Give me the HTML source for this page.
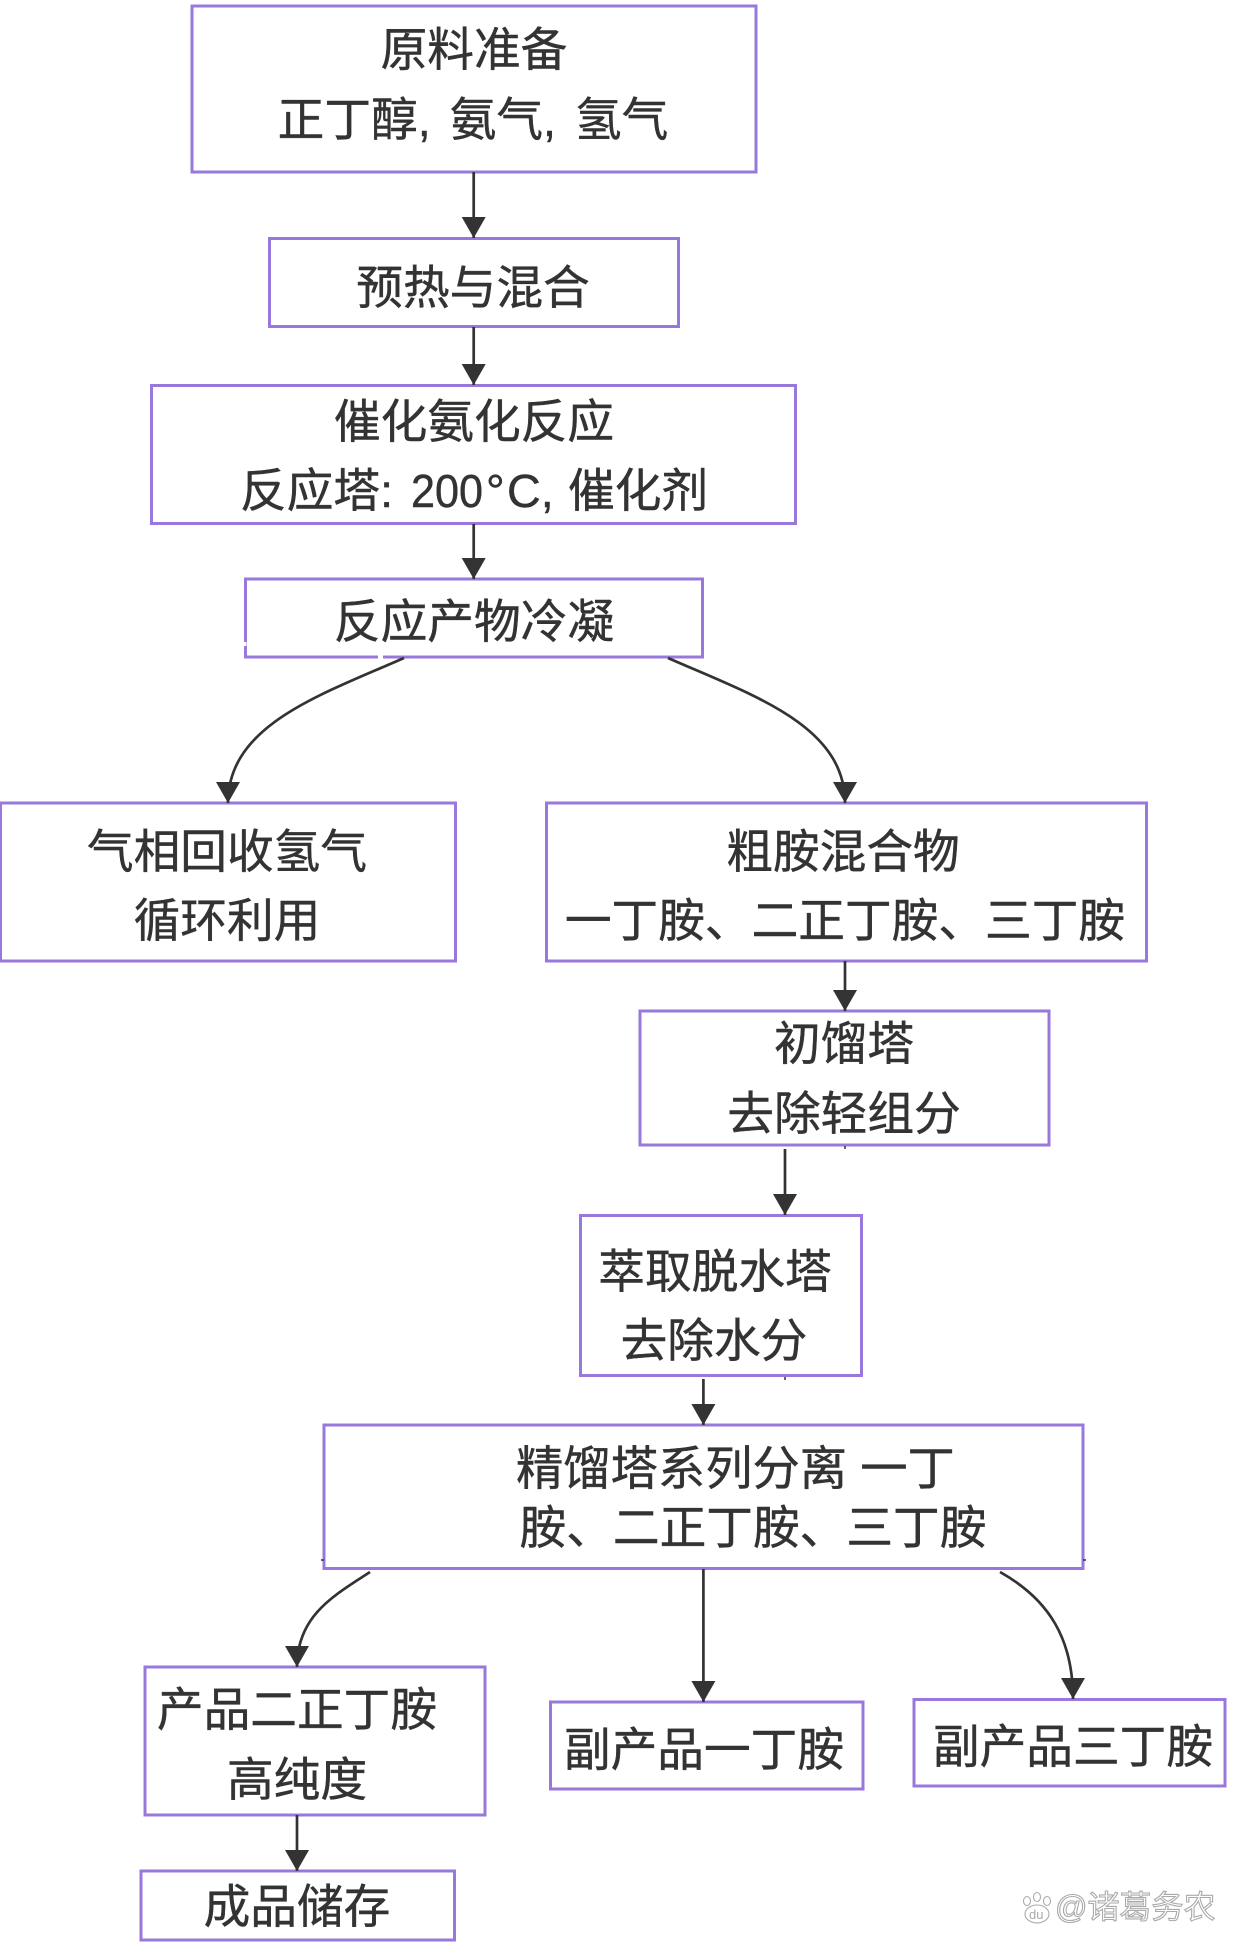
<!DOCTYPE html>
<html lang="zh">
<head>
<meta charset="utf-8">
<style>
html,body{margin:0;padding:0;background:#fff}
svg{display:block}
text{font-family:"Liberation Sans","Noto Sans CJK SC",sans-serif;font-size:46.7px;fill:#333;text-anchor:middle;stroke:#333;stroke-width:.45px}
text.s{text-anchor:start}
text.w{font-size:32px;fill:#fff;stroke:#aaa;stroke-width:1.1px;text-anchor:start}
rect{fill:#fff;stroke:#9878dc;stroke-width:3}
.e{fill:none;stroke:#333;stroke-width:2.7}
</style>
</head>
<body>
<svg width="1242" height="1951" viewBox="0 0 1242 1951" xmlns="http://www.w3.org/2000/svg">
<defs>
<marker id="a" markerUnits="userSpaceOnUse" markerWidth="23" markerHeight="25" refX="21" refY="12" orient="auto">
<path d="M0,0L21,12L0,24Z" fill="#333"/>
</marker>
</defs>
<g>
<rect x="192" y="6" width="564" height="166"/>
<rect x="269.500" y="238.500" width="409" height="88"/>
<rect x="151.500" y="385.500" width="644" height="138"/>
<rect x="245.500" y="579" width="457" height="78"/>
<rect x="0.500" y="803" width="455" height="158"/>
<rect x="546.500" y="803" width="600" height="158"/>
<rect x="640" y="1011" width="409" height="134"/>
<rect x="580.500" y="1215.500" width="281" height="160"/>
<rect x="324" y="1425" width="759" height="143.500"/>
<rect x="145" y="1667" width="340" height="148"/>
<rect x="550.500" y="1702" width="312.500" height="87"/>
<rect x="914" y="1699.500" width="311" height="86.500"/>
<rect x="141" y="1871" width="313.500" height="69"/>
</g>
<g class="edges">
<line class="e" x1="473.700" y1="172" x2="473.700" y2="238" marker-end="url(#a)"/>
<line class="e" x1="473.700" y1="327" x2="473.700" y2="385" marker-end="url(#a)"/>
<line class="e" x1="473.700" y1="524" x2="473.700" y2="579" marker-end="url(#a)"/>
<path class="e" d="M404,658C320,695 228,725 228,803" marker-end="url(#a)"/>
<path class="e" d="M668,658C752,695 845,725 845,803" marker-end="url(#a)"/>
<line class="e" x1="845" y1="961" x2="845" y2="1011" marker-end="url(#a)"/>
<line class="e" x1="785" y1="1149" x2="785" y2="1215" marker-end="url(#a)"/>
<line class="e" x1="703.400" y1="1379" x2="703.400" y2="1425" marker-end="url(#a)"/>
<path class="e" d="M370,1572C335,1595 297,1615 297,1667" marker-end="url(#a)"/>
<line class="e" x1="703.400" y1="1569" x2="703.400" y2="1702" marker-end="url(#a)"/>
<path class="e" d="M1000,1572C1050,1600 1073,1640 1073,1699" marker-end="url(#a)"/>
<line class="e" x1="297" y1="1815" x2="297" y2="1871" marker-end="url(#a)"/>
<path d="M845,1146V1149M785,1377V1380M321,1560H324M1083,1560H1086" fill="none" stroke="#333" stroke-width="1.5"/>
<path d="M245,642V646M378,657H383" fill="none" stroke="#fff" stroke-width="3"/>
</g>
<g>
<text x="474" y="66">原料准备</text>
<text x="473" y="136" style="word-spacing:6px">正丁醇, 氨气, 氢气</text>
<text x="473" y="304">预热与混合</text>
<text x="474" y="438">催化氨化反应</text>
<text class="s" x="240" y="507">反应塔:</text>
<text class="s" x="411" y="507" textLength="72" lengthAdjust="spacingAndGlyphs">200</text>
<text class="s" x="486" y="507">°</text>
<text class="s" x="507" y="507">C,</text>
<text class="s" x="568" y="507">催化剂</text>
<text x="474" y="638">反应产物冷凝</text>
<text x="227" y="868">气相回收氢气</text>
<text x="227" y="937">循环利用</text>
<text x="843" y="868">粗胺混合物</text>
<text x="845" y="937">一丁胺、二正丁胺、三丁胺</text>
<text x="844" y="1060">初馏塔</text>
<text x="844" y="1130">去除轻组分</text>
<text x="715" y="1288">萃取脱水塔</text>
<text x="714" y="1357">去除水分</text>
<text class="s" x="516" y="1485" style="font-size:47.3px">精馏塔系列分离 一丁</text>
<text x="753" y="1544">胺、二正丁胺、三丁胺</text>
<text x="297" y="1726">产品二正丁胺</text>
<text x="297" y="1796">高纯度</text>
<text x="704" y="1766">副产品一丁胺</text>
<text x="1073" y="1763">副产品三丁胺</text>
<text x="297" y="1923">成品储存</text>
<text class="w" x="1055" y="1918">@诸葛务农</text>
<g fill="#fff" stroke="#aaa" stroke-width="1.1">
<ellipse cx="1037" cy="1914" rx="12" ry="9"/>
<ellipse cx="1027" cy="1901" rx="3.500" ry="4.500"/>
<ellipse cx="1037" cy="1897" rx="3.500" ry="4.500"/>
<ellipse cx="1047" cy="1901" rx="3.500" ry="4.500"/>
</g>
<text class="s" x="1029" y="1919" style="font-size:13px;fill:#aaa;stroke:none">du</text>
</g>
</svg>
</body>
</html>
